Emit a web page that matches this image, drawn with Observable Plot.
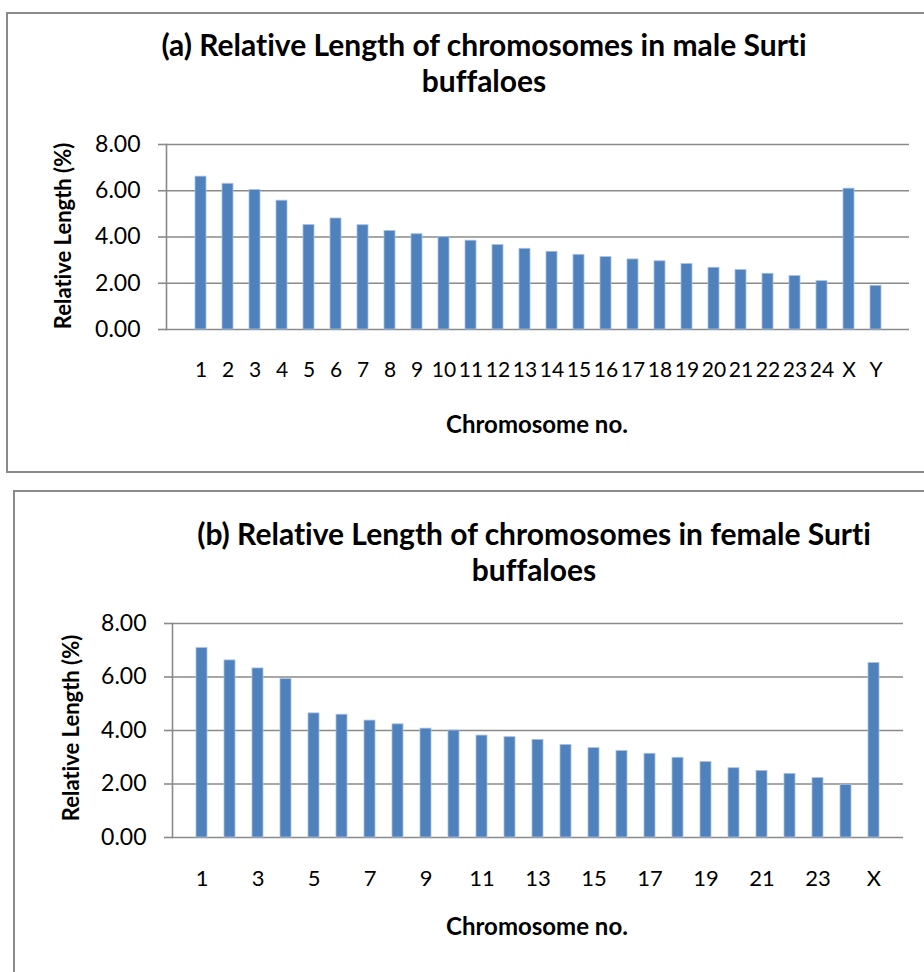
<!DOCTYPE html>
<html>
<head>
<meta charset="utf-8">
<script src="https://cdn.jsdelivr.net/npm/d3@7"></script>
<script src="https://cdn.jsdelivr.net/npm/@observablehq/plot@0.6"></script>
<style>
  html, body { margin: 0; padding: 0; background: #fff; }
  #page { position: relative; width: 924px; height: 972px; overflow: hidden; font-family: Lato, "Open Sans", sans-serif; color: #000; font-variant-ligatures: none; }
  .frame { position: absolute; border: 2px solid #8a8a8a; box-sizing: border-box; }
  .chart { position: absolute; left: 0; }
  .t { position: absolute; transform: translate(-50%, -50%); white-space: nowrap; text-align: center; }
  .title { font-weight: 700; font-size: 30px; line-height: 36px; }
  .xt { font-weight: 700; font-size: 24px; }
  .yt { font-weight: 700; font-size: 22px; transform: translate(-50%, -50%) rotate(-90deg); }
</style>
</head>
<body>
<div id="page">
  <div class="frame" style="left:6px; top:12px; width:940px; height:461px;"></div>
  <div class="frame" style="left:13px; top:490px; width:940px; height:500px;"></div>
  <div id="chartA" class="chart" style="top:0px;"></div>
  <div id="chartB" class="chart" style="top:490px;"></div>
  <div class="t title" style="left:484px; top:62px;">(a) Relative Length of chromosomes in male Surti<br>buffaloes</div>
  <div class="t xt" style="left:537px; top:423px;">Chromosome no.</div>
  <div class="t yt" style="left:62px; top:236px;">Relative Length (%)</div>
  <div class="t title" style="left:534px; top:551px;">(b) Relative Length of chromosomes in female Surti<br>buffaloes</div>
  <div class="t xt" style="left:537px; top:925px;">Chromosome no.</div>
  <div class="t yt" style="left:70px; top:728px;">Relative Length (%)</div>
</div>
<script>
const maleChromosomes = ["1","2","3","4","5","6","7","8","9","10","11","12","13","14","15","16","17","18","19","20","21","22","23","24","X","Y"];
const maleValues = [6.61, 6.30, 6.03, 5.57, 4.52, 4.80, 4.51, 4.26, 4.12, 3.99, 3.84, 3.65, 3.49, 3.36, 3.23, 3.13, 3.03, 2.95, 2.83, 2.67, 2.57, 2.41, 2.31, 2.09, 6.09, 1.89];
const femaleChromosomes = ["1","2","3","4","5","6","7","8","9","10","11","12","13","14","15","16","17","18","19","20","21","22","23","24","X"];
const femaleValues = [7.08, 6.62, 6.32, 5.92, 4.64, 4.59, 4.37, 4.23, 4.07, 4.00, 3.81, 3.75, 3.65, 3.46, 3.34, 3.23, 3.13, 2.98, 2.82, 2.59, 2.49, 2.38, 2.22, 1.97, 6.52];
const yTicks = [0, 2, 4, 6, 8];
const femaleTickLabels = ["1","3","5","7","9","11","13","15","17","19","21","23","X"];

function makeChart(cats, vals, opts) {
  const data = cats.map((c, i) => ({chr: c, value: vals[i]}));
  return Plot.plot({
    width: 924,
    height: opts.height,
    marginTop: opts.mt,
    marginBottom: opts.mb,
    marginLeft: opts.ml,
    marginRight: opts.mr,
    style: {fontFamily: "Lato, 'Open Sans', sans-serif", color: "#000", background: "transparent"},
    x: {domain: cats, padding: 0.6, label: null},
    y: {domain: [0, 8], label: null},
    marks: [
      Plot.ruleY(yTicks, {stroke: "#8a8a8a", strokeWidth: 1.6}),
      Plot.barY(data, {x: "chr", y: "value", fill: "#4F81BD", stroke: "#a9c1e0", strokeWidth: 0.8}),
      Plot.frame({anchor: "left", stroke: "#8a8a8a", strokeWidth: 1.6}),
      Plot.axisY({ticks: yTicks, tickSize: 8, tickPadding: 18, tickFormat: d => d.toFixed(2), fontSize: 23, stroke: "#8a8a8a", strokeWidth: 1.6, label: null}),
      Plot.axisX({ticks: opts.xticks, tickSize: 0, tickPadding: opts.xpad, fontSize: opts.xfs, label: null})
    ]
  });
}

document.getElementById("chartA").appendChild(makeChart(maleChromosomes, maleValues,
  {height: 472, mt: 144, mb: 143, ml: 166, mr: 15, xticks: maleChromosomes, xpad: 33, xfs: 21}));
document.getElementById("chartB").appendChild(makeChart(femaleChromosomes, femaleValues,
  {height: 482, mt: 133, mb: 135, ml: 172, mr: 21, xticks: femaleTickLabels, xpad: 33, xfs: 22}));
</script>
</body>
</html>
